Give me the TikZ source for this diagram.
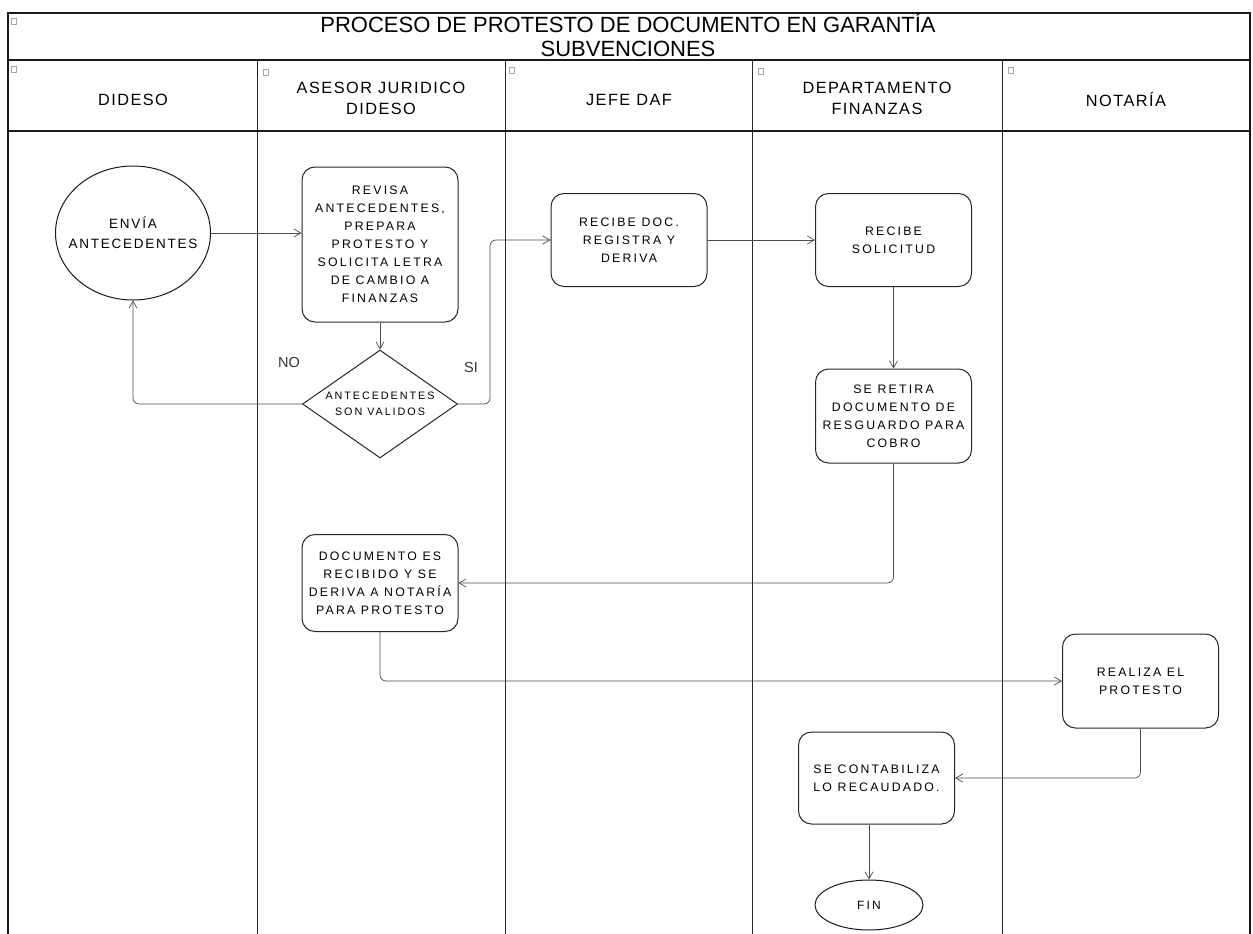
\documentclass[tikz,border=0pt]{standalone}
\usepackage{fontspec}
\setmainfont{Liberation Sans}
\newfontfamily\titlefont{Liberation Sans}
\newfontfamily\headfont[LetterSpace=9]{Liberation Sans}
\newfontfamily\boxfont[LetterSpace=18]{Liberation Sans}
\newfontfamily\ellfont[LetterSpace=13]{Liberation Sans}
\usetikzlibrary{shapes.geometric,arrows.meta}

\begin{document}
\begin{tikzpicture}[x=1pt,y=-1pt,
  frame/.style={line width=1.1pt,draw=black!90},
  lanediv/.style={line width=1pt,draw=black!85},
  proc/.style={draw=black!85,line width=1pt,rounded corners=13pt,
    minimum width=156pt,align=center,inner sep=0pt,
    font=\boxfont\fontsize{12.3}{18}\selectfont},
  term/.style={ellipse,draw=black!90,line width=1pt,align=center,inner sep=0pt},
  decision/.style={diamond,draw=black!85,line width=1pt,align=center,
    minimum width=155pt,minimum height=108pt,inner sep=0pt,aspect=1.43,
    font=\boxfont\fontsize{10.8}{16}\selectfont},
  head/.style={align=center,font=\headfont\fontsize{16.3}{21}\selectfont},
  conn/.style={draw=black!70,line width=0.7pt,rounded corners=6pt,
    -{Straight Barb[length=7pt,width=8pt]}},
  lbl/.style={font=\fontsize{14.5}{16}\selectfont,text=black!80},
  icon/.style={draw=black!35,line width=0.4pt,minimum width=5pt,minimum height=6pt,inner sep=0pt}
]
\useasboundingbox (0,0) rectangle (1253,934);

% pool frame, title row and lane header row
\draw[frame] (8,934) -- (8,13) -- (1250,13) -- (1250,934);
\draw[frame] (8,60) -- (1250,60);
\draw[frame] (8,131) -- (1250,131);
\foreach \xx in {257,505,752,1002}
  \draw[lanediv] (\xx,60) -- (\xx,934);

% collapse markers in the header cells
\foreach \ix/\iy [count=\k] in {14/21,14/69,266/72,512/70,761/71,1011/70}
  \node[icon] (ic\k) at (\ix,\iy) {};

% title
\node[align=center,font=\titlefont\fontsize{22}{24}\selectfont] (title) at (628,35)
  {PROCESO DE PROTESTO DE DOCUMENTO EN GARANTÍA\\SUBVENCIONES};

% lane headers
\node[head] (h1) at (133,100) {DIDESO};
\node[head] (h2) at (381,98) {ASESOR JURIDICO\\DIDESO};
\node[head] (h3) at (629,100) {JEFE DAF};
\node[head] (h4) at (877,98) {DEPARTAMENTO\\FINANZAS};
\node[head] (h5) at (1126,100) {NOTARÍA};

% process nodes
\node[term,minimum width=155pt,minimum height=134pt,inner xsep=-11pt,
  font=\ellfont\fontsize{13.5}{20}\selectfont] (envia) at (133,233) {ENVÍA\\ANTECEDENTES};
\node[proc,minimum height=155pt] (rev) at (380,244.5)
  {REVISA\\ANTECEDENTES,\\PREPARA\\PROTESTO Y\\SOLICITA LETRA\\DE CAMBIO A\\FINANZAS};
\node[decision] (dec) at (380,404) {ANTECEDENTES\\SON VALIDOS};
\node[proc,minimum height=93pt] (recdoc) at (629,240) {RECIBE DOC.\\REGISTRA Y\\DERIVA};
\node[proc,minimum height=93pt] (recsol) at (893.5,240) {RECIBE\\SOLICITUD};
\node[proc,minimum height=94pt] (retira) at (893.5,416)
  {SE RETIRA\\DOCUMENTO DE\\RESGUARDO PARA\\COBRO};
\node[proc,minimum height=97pt] (docrec) at (380,583)
  {DOCUMENTO ES\\RECIBIDO Y SE\\DERIVA A NOTARÍA\\PARA PROTESTO};
\node[proc,minimum height=94pt] (realiza) at (1140.5,681) {REALIZA EL\\PROTESTO};
\node[proc,minimum height=92pt] (contab) at (876.5,778) {SE CONTABILIZA\\LO RECAUDADO.};
\node[term,minimum width=108pt,minimum height=50pt,
  font=\boxfont\fontsize{12}{14}\selectfont] (fin) at (869,905) {FIN};

% decision labels
\node[lbl] (no) at (289,363) {NO};
\node[lbl] (si) at (471,368) {SI};

% flow connectors
\draw[conn] (envia.east) -- (envia.east -| rev.west);
\draw[conn] (rev.south) -- (dec.north);
\draw[conn] (dec.west) -| (envia.south);
\draw[conn] (dec.east) -- ++(32,0) |- (recdoc.west);
\draw[conn] (recdoc.east) -- (recsol.west);
\draw[conn] (recsol.south) -- (retira.north);
\draw[conn] (retira.south) |- (docrec.east);
\draw[conn] (docrec.south) |- (realiza.west);
\draw[conn] (realiza.south) |- (contab.east);
\draw[conn] (fin.north |- contab.south) -- (fin.north);
\end{tikzpicture}
\end{document}
